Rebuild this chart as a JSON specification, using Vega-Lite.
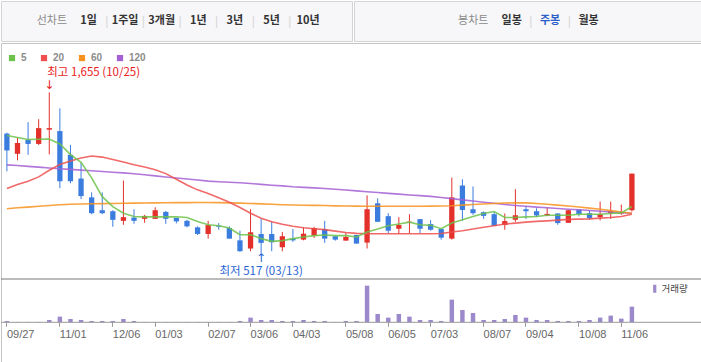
{
  "$schema": "https://vega.github.io/schema/vega-lite/v6.json",
  "padding": 0,
  "spacing": 0,
  "config": {
    "font": "Liberation Sans",
    "view": {"stroke": "#cccccc"},
    "concat": {"spacing": 0}
  },
  "datasets": {
    "weeks": [
      {"d":"2023-09-27","o":1363,"h":1370,"l":1096,"c":1244,"v":4,"ma5":1350,"ma20":975,"ma60":832,"ma120":1142},
      {"d":"2023-10-04","o":1220,"h":1332,"l":1174,"c":1297,"v":1,"ma5":1335,"ma20":1003,"ma60":838,"ma120":1137},
      {"d":"2023-10-11","o":1318,"h":1444,"l":1213,"c":1290,"v":1,"ma5":1321,"ma20":1026,"ma60":843,"ma120":1131},
      {"d":"2023-10-18","o":1290,"h":1465,"l":1283,"c":1402,"v":1,"ma5":1323,"ma20":1057,"ma60":849,"ma120":1126},
      {"d":"2023-10-25","o":1391,"h":1655,"l":1216,"c":1402,"v":7,"ma5":1325,"ma20":1104,"ma60":855,"ma120":1120},
      {"d":"2023-11-01","o":1381,"h":1542,"l":977,"c":1026,"v":17,"ma5":1290,"ma20":1145,"ma60":860,"ma120":1115},
      {"d":"2023-11-08","o":1213,"h":1283,"l":1012,"c":1026,"v":10,"ma5":1215,"ma20":1170,"ma60":863,"ma120":1110},
      {"d":"2023-11-15","o":1045,"h":1157,"l":900,"c":921,"v":7,"ma5":1160,"ma20":1190,"ma60":865,"ma120":1105},
      {"d":"2023-11-22","o":912,"h":947,"l":793,"c":800,"v":4,"ma5":1050,"ma20":1205,"ma60":867,"ma120":1100},
      {"d":"2023-11-29","o":821,"h":947,"l":793,"c":800,"v":4,"ma5":917,"ma20":1197,"ma60":868,"ma120":1095},
      {"d":"2023-12-06","o":814,"h":821,"l":704,"c":753,"v":4,"ma5":847,"ma20":1180,"ma60":869,"ma120":1090},
      {"d":"2023-12-13","o":746,"h":1031,"l":718,"c":772,"v":10,"ma5":800,"ma20":1162,"ma60":870,"ma120":1085},
      {"d":"2023-12-20","o":769,"h":828,"l":725,"c":746,"v":4,"ma5":777,"ma20":1143,"ma60":871,"ma120":1079},
      {"d":"2023-12-27","o":760,"h":788,"l":732,"c":781,"v":1,"ma5":774,"ma20":1127,"ma60":872,"ma120":1072},
      {"d":"2024-01-03","o":760,"h":842,"l":760,"c":821,"v":1,"ma5":774,"ma20":1108,"ma60":873,"ma120":1064},
      {"d":"2024-01-10","o":809,"h":816,"l":725,"c":760,"v":1,"ma5":774,"ma20":1080,"ma60":874,"ma120":1056},
      {"d":"2024-01-17","o":767,"h":767,"l":728,"c":742,"v":1,"ma5":775,"ma20":1040,"ma60":875,"ma120":1049},
      {"d":"2024-01-24","o":746,"h":753,"l":700,"c":707,"v":1,"ma5":770,"ma20":1000,"ma60":875,"ma120":1042},
      {"d":"2024-01-31","o":700,"h":707,"l":646,"c":653,"v":1,"ma5":742,"ma20":965,"ma60":876,"ma120":1035},
      {"d":"2024-02-07","o":653,"h":746,"l":620,"c":716,"v":1,"ma5":718,"ma20":940,"ma60":876,"ma120":1027},
      {"d":"2024-02-14","o":711,"h":730,"l":683,"c":704,"v":1,"ma5":711,"ma20":910,"ma60":875,"ma120":1023},
      {"d":"2024-02-21","o":695,"h":707,"l":620,"c":620,"v":1,"ma5":695,"ma20":878,"ma60":873,"ma120":1019},
      {"d":"2024-02-28","o":608,"h":676,"l":527,"c":531,"v":4,"ma5":648,"ma20":840,"ma60":871,"ma120":1015},
      {"d":"2024-03-06","o":550,"h":828,"l":531,"c":665,"v":14,"ma5":648,"ma20":800,"ma60":869,"ma120":1010},
      {"d":"2024-03-13","o":653,"h":760,"l":517,"c":590,"v":7,"ma5":620,"ma20":765,"ma60":866,"ma120":1004},
      {"d":"2024-03-20","o":653,"h":742,"l":531,"c":594,"v":7,"ma5":601,"ma20":740,"ma60":863,"ma120":998},
      {"d":"2024-03-27","o":559,"h":667,"l":531,"c":637,"v":4,"ma5":606,"ma20":722,"ma60":860,"ma120":993},
      {"d":"2024-04-03","o":620,"h":688,"l":597,"c":608,"v":4,"ma5":620,"ma20":708,"ma60":858,"ma120":987},
      {"d":"2024-04-10","o":613,"h":700,"l":608,"c":655,"v":7,"ma5":632,"ma20":697,"ma60":856,"ma120":983},
      {"d":"2024-04-17","o":641,"h":704,"l":625,"c":695,"v":4,"ma5":641,"ma20":690,"ma60":855,"ma120":979},
      {"d":"2024-04-24","o":688,"h":746,"l":590,"c":620,"v":4,"ma5":646,"ma20":684,"ma60":854,"ma120":975},
      {"d":"2024-05-01","o":637,"h":637,"l":606,"c":613,"v":1,"ma5":641,"ma20":673,"ma60":852,"ma120":969},
      {"d":"2024-05-08","o":606,"h":660,"l":606,"c":632,"v":4,"ma5":641,"ma20":663,"ma60":851,"ma120":964},
      {"d":"2024-05-15","o":646,"h":646,"l":585,"c":585,"v":4,"ma5":632,"ma20":657,"ma60":850,"ma120":958},
      {"d":"2024-05-22","o":592,"h":926,"l":550,"c":828,"v":110,"ma5":667,"ma20":655,"ma60":849,"ma120":952},
      {"d":"2024-05-29","o":870,"h":905,"l":739,"c":739,"v":25,"ma5":688,"ma20":655,"ma60":849,"ma120":946},
      {"d":"2024-06-05","o":779,"h":800,"l":660,"c":676,"v":14,"ma5":711,"ma20":655,"ma60":849,"ma120":940},
      {"d":"2024-06-12","o":690,"h":772,"l":655,"c":716,"v":25,"ma5":723,"ma20":655,"ma60":849,"ma120":935},
      {"d":"2024-06-19","o":736,"h":793,"l":660,"c":740,"v":17,"ma5":737,"ma20":655,"ma60":849,"ma120":929},
      {"d":"2024-06-26","o":758,"h":758,"l":660,"c":690,"v":7,"ma5":718,"ma20":655,"ma60":849,"ma120":924},
      {"d":"2024-07-03","o":723,"h":751,"l":676,"c":683,"v":7,"ma5":714,"ma20":655,"ma60":850,"ma120":919},
      {"d":"2024-07-10","o":688,"h":688,"l":613,"c":627,"v":4,"ma5":690,"ma20":656,"ma60":851,"ma120":911},
      {"d":"2024-07-17","o":620,"h":1052,"l":613,"c":912,"v":68,"ma5":730,"ma20":667,"ma60":853,"ma120":903},
      {"d":"2024-07-24","o":996,"h":1040,"l":746,"c":823,"v":37,"ma5":753,"ma20":676,"ma60":857,"ma120":894},
      {"d":"2024-07-31","o":828,"h":989,"l":788,"c":800,"v":28,"ma5":777,"ma20":688,"ma60":861,"ma120":886},
      {"d":"2024-08-07","o":807,"h":812,"l":760,"c":781,"v":7,"ma5":798,"ma20":700,"ma60":865,"ma120":878},
      {"d":"2024-08-14","o":793,"h":807,"l":711,"c":711,"v":7,"ma5":812,"ma20":711,"ma60":869,"ma120":870},
      {"d":"2024-08-21","o":716,"h":798,"l":683,"c":744,"v":10,"ma5":770,"ma20":723,"ma60":872,"ma120":862},
      {"d":"2024-08-28","o":753,"h":970,"l":739,"c":786,"v":22,"ma5":770,"ma20":730,"ma60":874,"ma120":855},
      {"d":"2024-09-04","o":828,"h":847,"l":760,"c":814,"v":14,"ma5":774,"ma20":737,"ma60":873,"ma120":849},
      {"d":"2024-09-11","o":814,"h":835,"l":772,"c":784,"v":7,"ma5":777,"ma20":742,"ma60":869,"ma120":843},
      {"d":"2024-09-18","o":784,"h":842,"l":779,"c":795,"v":7,"ma5":786,"ma20":746,"ma60":863,"ma120":838},
      {"d":"2024-09-25","o":798,"h":798,"l":718,"c":730,"v":4,"ma5":786,"ma20":751,"ma60":857,"ma120":833},
      {"d":"2024-10-02","o":732,"h":826,"l":732,"c":821,"v":4,"ma5":786,"ma20":756,"ma60":851,"ma120":828},
      {"d":"2024-10-08","o":826,"h":826,"l":777,"c":793,"v":4,"ma5":793,"ma20":758,"ma60":844,"ma120":824},
      {"d":"2024-10-16","o":800,"h":821,"l":753,"c":765,"v":7,"ma5":793,"ma20":760,"ma60":836,"ma120":819},
      {"d":"2024-10-23","o":772,"h":882,"l":749,"c":793,"v":14,"ma5":793,"ma20":765,"ma60":828,"ma120":814},
      {"d":"2024-10-30","o":800,"h":882,"l":760,"c":814,"v":20,"ma5":798,"ma20":770,"ma60":818,"ma120":809},
      {"d":"2024-11-06","o":798,"h":861,"l":788,"c":807,"v":11,"ma5":802,"ma20":777,"ma60":808,"ma120":804},
      {"d":"2024-11-13","o":821,"h":1080,"l":812,"c":1080,"v":47,"ma5":847,"ma20":793,"ma60":800,"ma120":800}
    ],
    "annot": [
      {"d": "2023-10-25", "p": 1655, "kind": "high", "label": "최고 1,655 (10/25)"},
      {"d": "2024-03-13", "p": 517, "kind": "low", "label": "최저 517 (03/13)"}
    ],
    "menuL": [
      {"item": "선차트", "kind": "title"},
      {"item": "1일", "kind": "period"},
      {"item": "1주일", "kind": "period"},
      {"item": "3개월", "kind": "period"},
      {"item": "1년", "kind": "period"},
      {"item": "3년", "kind": "period"},
      {"item": "5년", "kind": "period"},
      {"item": "10년", "kind": "period"}
    ],
    "menuR": [
      {"item": "봉차트", "kind": "title"},
      {"item": "일봉", "kind": "period"},
      {"item": "주봉", "kind": "active"},
      {"item": "월봉", "kind": "period"}
    ]
  },
  "vconcat": [
    {
      "spacing": 0,
      "hconcat": [
        {
          "width": 351,
          "height": 40,
          "view": {"fill": "#f7f7f9", "stroke": "#d4d4d4"},
          "data": {"name": "menuL"},
          "layer": [
            {
              "transform": [{"filter": "datum.kind == 'title'"}],
              "mark": {"type": "text", "font": "Noto Sans CJK KR", "fontSize": 11, "color": "#8a8a8a"},
              "encoding": {
                "x": {"field": "item", "type": "nominal", "scale": {"type": "band", "domain": ["선차트","1일","1주일","3개월","1년","3년","5년","10년"], "range": [32.6, 325.4], "paddingInner": 0, "paddingOuter": 0}, "axis": null},
                "text": {"field": "item"}
              }
            },
            {
              "transform": [{"filter": "datum.kind == 'period'"}],
              "mark": {"type": "text", "font": "Noto Sans CJK KR", "fontSize": 11, "fontWeight": "bold", "color": "#333333"},
              "encoding": {
                "x": {"field": "item", "type": "nominal", "axis": null},
                "text": {"field": "item"}
              }
            },
            {
              "transform": [{"filter": "datum.kind == 'period' && datum.item != '1일'"}],
              "mark": {"type": "text", "font": "Liberation Sans", "fontSize": 12, "color": "#d6d6d6", "text": "|"},
              "encoding": {
                "x": {"field": "item", "type": "nominal", "bandPosition": 0, "axis": null}
              }
            }
          ]
        },
        {
          "width": 349,
          "height": 40,
          "view": {"fill": "#f7f7f9", "stroke": "#d4d4d4"},
          "data": {"name": "menuR"},
          "layer": [
            {
              "transform": [{"filter": "datum.kind == 'title'"}],
              "mark": {"type": "text", "font": "Noto Sans CJK KR", "fontSize": 11, "color": "#8a8a8a"},
              "encoding": {
                "x": {"field": "item", "type": "nominal", "scale": {"type": "band", "domain": ["봉차트","일봉","주봉","월봉"], "range": [100, 253.8], "paddingInner": 0, "paddingOuter": 0}, "axis": null},
                "text": {"field": "item"}
              }
            },
            {
              "transform": [{"filter": "datum.kind != 'title'"}],
              "mark": {"type": "text", "font": "Noto Sans CJK KR", "fontSize": 11, "fontWeight": "bold"},
              "encoding": {
                "x": {"field": "item", "type": "nominal", "axis": null},
                "text": {"field": "item"},
                "color": {"condition": {"test": "datum.kind == 'active'", "value": "#2d5fc8"}, "value": "#333333"}
              }
            },
            {
              "transform": [{"filter": "datum.kind != 'title' && datum.item != '일봉'"}],
              "mark": {"type": "text", "font": "Liberation Sans", "fontSize": 12, "color": "#d6d6d6", "text": "|"},
              "encoding": {
                "x": {"field": "item", "type": "nominal", "bandPosition": 0, "axis": null}
              }
            }
          ]
        }
      ]
    },
    {
      "width": 700,
      "height": 320,
      "view": {"stroke": "#c4c4c4"},
      "data": {"name": "weeks"},
      "resolve": {
        "scale": {"y": "independent", "color": "independent"},
        "axis": {"x": "independent", "y": "independent"},
        "legend": {"color": "independent"}
      },
      "layer": [
        {
          "layer": [
            {
              "mark": {"type": "rule", "strokeWidth": 1},
              "encoding": {
                "x": {
                  "field": "d", "type": "ordinal",
                  "scale": {"type": "band", "range": [0.6, 636.2], "paddingInner": 0, "paddingOuter": 0},
                  "axis": {"values": ["2023-09-27","2023-11-01","2023-12-06","2024-01-03","2024-02-07","2024-03-06","2024-04-03","2024-05-08","2024-06-05","2024-07-03","2024-08-07","2024-09-04","2024-10-08","2024-11-06"], "bandPosition": 0.5, "grid": true, "gridColor": "#ebebeb", "labels": false, "ticks": false, "domain": false, "title": null}
                },
                "y": {
                  "field": "l", "type": "quantitative",
                  "scale": {"domain": [334.4, 1804], "range": [236, 28.3], "nice": false, "zero": false},
                  "axis": {"orient": "right", "offset": -63, "values": [403, 636.5, 870, 1103.5, 1337, 1570.5, 1804], "format": ",.0f", "grid": true, "gridColor": "#ebebeb", "domain": false, "ticks": false, "labelAlign": "left", "labelPadding": 4, "labelColor": "#666666", "labelFontSize": 11.5, "labelFont": "Liberation Sans", "title": null}
                },
                "y2": {"field": "h"},
                "color": {"condition": {"test": "datum.c >= datum.o", "value": "#e3302b"}, "value": "#3b7ddf"}
              }
            },
            {
              "mark": {"type": "bar", "width": {"band": 0.5}},
              "encoding": {
                "x": {"field": "d", "type": "ordinal", "axis": null},
                "y": {"field": "o", "type": "quantitative", "axis": null},
                "y2": {"field": "c"},
                "color": {"condition": {"test": "datum.c >= datum.o", "value": "#e3302b"}, "value": "#3b7ddf"}
              }
            },
            {
              "transform": [{"fold": ["ma120", "ma60", "ma20", "ma5"], "as": ["ma", "val"]}],
              "mark": {"type": "line", "strokeWidth": 1.6, "opacity": 0.85},
              "encoding": {
                "x": {"field": "d", "type": "ordinal", "axis": null},
                "y": {"field": "val", "type": "quantitative", "axis": null},
                "color": {
                  "field": "ma", "type": "nominal",
                  "scale": {"domain": ["ma5", "ma20", "ma60", "ma120"], "range": ["#6cc24a", "#ef4f4f", "#f7921e", "#a35fd3"]},
                  "legend": {"orient": "none", "legendX": 6, "legendY": 10, "direction": "horizontal", "title": null, "symbolType": "square", "symbolSize": 9, "symbolStrokeWidth": 3.2, "symbolOpacity": 1, "labelFont": "Liberation Sans", "labelFontSize": 10, "labelFontWeight": "bold", "labelColor": "#8c8c8c", "labelExpr": "replace(datum.label, 'ma', '')", "columnPadding": 9, "labelOffset": 4, "padding": 0}
                }
              }
            },
            {
              "data": {"values": [{}]},
              "mark": {"type": "rule", "color": "#777777", "strokeWidth": 1},
              "encoding": {"y": {"datum": 334.4, "type": "quantitative", "axis": null}}
            },
            {
              "data": {"name": "annot"},
              "transform": [{"filter": "datum.kind == 'high'"}],
              "mark": {"type": "text", "align": "left", "baseline": "middle", "dx": -2, "dy": -19, "font": "Noto Sans CJK KR", "fontSize": 11.5, "color": "#e8211c"},
              "encoding": {
                "x": {"field": "d", "type": "ordinal", "axis": null},
                "y": {"field": "p", "type": "quantitative", "axis": null},
                "text": {"field": "label"}
              }
            },
            {
              "data": {"name": "annot"},
              "transform": [{"filter": "datum.kind == 'high'"}],
              "mark": {"type": "text", "align": "center", "baseline": "bottom", "dy": 0, "font": "DejaVu Sans", "fontSize": 12, "color": "#e8211c", "text": "↓"},
              "encoding": {
                "x": {"field": "d", "type": "ordinal", "axis": null},
                "y": {"field": "p", "type": "quantitative", "axis": null}
              }
            },
            {
              "data": {"name": "annot"},
              "transform": [{"filter": "datum.kind == 'low'"}],
              "mark": {"type": "text", "align": "center", "baseline": "middle", "dy": 19, "font": "Noto Sans CJK KR", "fontSize": 11.5, "color": "#2a64d4"},
              "encoding": {
                "x": {"field": "d", "type": "ordinal", "axis": null},
                "y": {"field": "p", "type": "quantitative", "axis": null},
                "text": {"field": "label"}
              }
            },
            {
              "data": {"name": "annot"},
              "transform": [{"filter": "datum.kind == 'low'"}],
              "mark": {"type": "text", "align": "center", "baseline": "top", "dy": 0, "font": "DejaVu Sans", "fontSize": 12, "color": "#2a64d4", "text": "↑"},
              "encoding": {
                "x": {"field": "d", "type": "ordinal", "axis": null},
                "y": {"field": "p", "type": "quantitative", "axis": null}
              }
            }
          ]
        },
        {
          "layer": [
            {
              "mark": {"type": "bar", "width": {"band": 0.42}},
              "encoding": {
                "x": {
                  "field": "d", "type": "ordinal",
                  "scale": {"type": "band", "range": [0.6, 636.2], "paddingInner": 0, "paddingOuter": 0},
                  "axis": {"orient": "bottom", "offset": -40.7, "values": ["2023-09-27","2023-11-01","2023-12-06","2024-01-03","2024-02-07","2024-03-06","2024-04-03","2024-05-08","2024-06-05","2024-07-03","2024-08-07","2024-09-04","2024-10-08","2024-11-06"], "bandPosition": 0.5, "labelExpr": "replace(slice(datum.value, 5), '-', '/')", "labelAlign": "left", "labelAngle": 0, "labelPadding": 2, "labelColor": "#666666", "labelFontSize": 11, "labelFont": "Liberation Sans", "ticks": true, "tickSize": 4, "tickColor": "#999999", "domain": false, "grid": false, "title": null}
                },
                "y": {"field": "v", "type": "quantitative", "scale": {"domain": [0, 130], "range": [279.3, 236], "nice": false}, "axis": null},
                "color": {
                  "datum": "거래량", "type": "nominal",
                  "scale": {"range": ["#9b89cb"]},
                  "legend": {"orient": "none", "legendX": 649, "legendY": 241, "title": null, "symbolType": "M-0.4,-1H0.4V1H-0.4Z", "symbolSize": 64, "symbolStrokeWidth": 0, "labelFont": "Noto Sans CJK KR", "labelFontSize": 9.5, "labelColor": "#444444", "labelOffset": 2, "padding": 0}
                }
              }
            },
            {
              "data": {"values": [{}]},
              "mark": {"type": "rule", "color": "#999999", "strokeWidth": 1},
              "encoding": {"y": {"datum": 0, "type": "quantitative", "axis": null}}
            }
          ]
        }
      ]
    }
  ]
}
